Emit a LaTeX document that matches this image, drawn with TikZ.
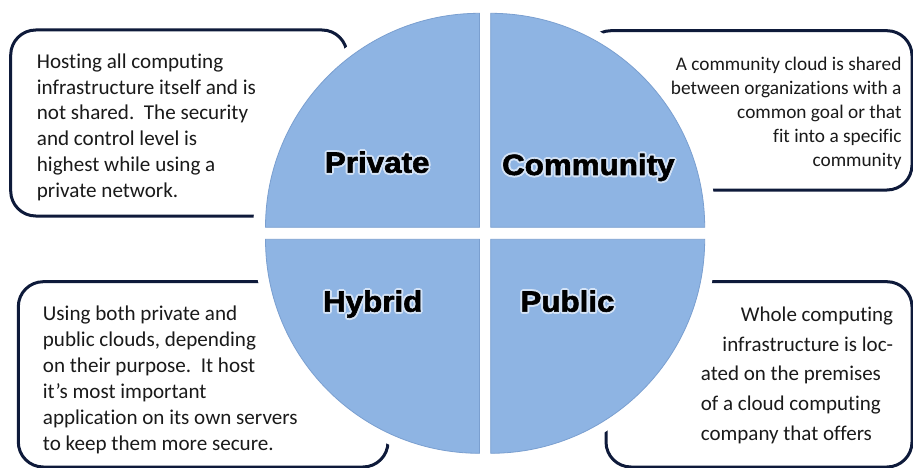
\documentclass[tikz,border=0pt]{standalone}
\usepackage{fontspec}
\setmainfont{Carlito}[Ligatures=NoCommon]
\newfontfamily\labelfont{Liberation Sans}[BoldFeatures={FakeBold=2,FakeStretch=1.07}]

\definecolor{quadfill}{HTML}{8EB4E3}
\definecolor{quadedge}{HTML}{7A9FD0}
\definecolor{boxink}{HTML}{0E1A3A}
\definecolor{glow}{HTML}{D4E3F6}
\definecolor{bodyink}{HTML}{1A1A1A}

% soft light halo behind the quadrant titles
\newcommand\glowword[1]{%
  \foreach \gx/\gy in {2/0,-2/0,0/2,0/-2,1.4/1.4,-1.4/1.4,1.4/-1.4,-1.4/-1.4}{%
    \rlap{\kern\gx pt\raisebox{\gy pt}{\textcolor{glow}{#1}}}}%
  #1}

\tikzset{
  infobox/.style={draw=boxink, line width=3pt, rounded corners=25pt},
  quadrant/.style={fill=quadfill, draw=quadedge, line width=0.8pt},
  title/.style={font=\labelfont\bfseries\fontsize{29.3}{32}\selectfont, text=black, inner sep=0pt, anchor=base},
  bodyA/.style={font=\fontsize{21.1}{24}\selectfont, text=bodyink, inner sep=0pt},
  bodyB/.style={font=\fontsize{19.3}{24}\selectfont, text=bodyink, inner sep=0pt},
  bodyC/.style={font=\fontsize{21}{24}\selectfont, text=bodyink, inner sep=0pt},
}

\begin{document}
\begin{tikzpicture}[x=1pt, y=-1pt]
\useasboundingbox (0,0) rectangle (913,468);
\fill[white] (0,0) rectangle (913,468);

% four description boxes
\draw[infobox] (10.7,30) rectangle (347,216);
\draw[infobox] (586,30.7) rectangle (912,190);
\draw[infobox] (18.3,281.7) rectangle (388,467);
\draw[infobox] (606,281.7) rectangle (912,467);

% white disk that the pie sits on
\fill[white] (485.1,233.3) circle[radius=232];

% the four quadrants
\path[quadrant] (479.5,227.3) -- ++(-214,0) arc[start angle=180, end angle=270, radius=214] -- cycle;
\path[quadrant] (490.7,227.3) -- ++(0,-214) arc[start angle=270, end angle=360, radius=214] -- cycle;
\path[quadrant] (479.5,239.3) -- ++(-214,0) arc[start angle=180, end angle=90, radius=214] -- cycle;
\path[quadrant] (490.7,239.3) -- ++(214,0) arc[start angle=0, end angle=90, radius=214] -- cycle;

% quadrant titles
\node[title] (private) at (377.2,172.7) {\glowword{Private}};
\node[title] (community) at (588.3,175) {\glowword{Community}};
\node[title] (hybrid) at (372.7,311.7) {\glowword{Hybrid}};
\node[title] (public) at (567.5,311.7) {\glowword{Public}};

% private cloud text
\foreach [count=\i] \l in {Hosting all computing, infrastructure itself and is,
  not shared.\ \ The security, and control level is, highest while using a, private network.}
  \node[bodyA, anchor=base west] (priv\i) at (36.7,{68.3+(\i-1)*25.8}) {\l};

% community cloud text
\foreach [count=\i] \l in {A community cloud is shared, between organizations with a,
  common goal or that, fit into a specific, community}
  \node[bodyB, anchor=base east] (comm\i) at (901.7,{70.7+(\i-1)*24}) {\l};

% hybrid cloud text
\foreach [count=\i] \l in {Using both private and, {public clouds, depending},
  on their purpose.\ \ It host, it’s most important, application on its own servers,
  to keep them more secure.}
  \node[bodyA, anchor=base west] (hyb\i) at (42.7,{320.7+(\i-1)*25.9}) {\l};

% public cloud text
\foreach [count=\i] \l in {Whole computing, infrastructure is loc-}
  \node[bodyC, anchor=base east] (pubA\i) at (893.3,{321.7+(\i-1)*29.6}) {\l};
\foreach [count=\i] \l in {ated on the premises, of a cloud computing, company that offers}
  \node[bodyC, anchor=base west] (pubB\i) at (700.7,{380.9+(\i-1)*29.6}) {\l};
\end{tikzpicture}
\end{document}
